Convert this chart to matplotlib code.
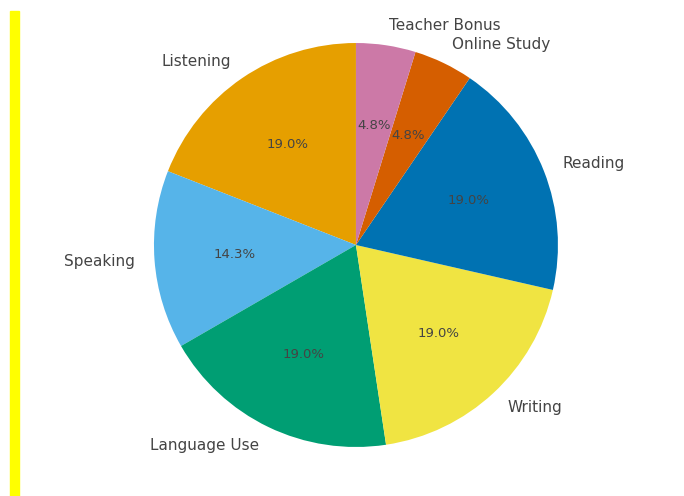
import matplotlib
matplotlib.use("Agg")
import matplotlib.pyplot as plt
from matplotlib.patches import Rectangle

# slices, counter-clockwise from 12 o'clock
labels = ["Listening", "Speaking", "Language Use", "Writing", "Reading",
          "Online Study", "Teacher Bonus"]
points = [20, 15, 20, 20, 20, 5, 5]
colors = ["#E69F00", "#56B4E9", "#009E73", "#F0E442", "#0072B2",
          "#D55E00", "#CC79A7"]

fig = plt.figure(figsize=(6.84, 4.96), dpi=100)

# yellow strip on the left edge
fig.patches.append(Rectangle((10 / 684, 0), 9 / 684, 485 / 496,
                             transform=fig.transFigure, color="#FFFF00",
                             zorder=0))

ax = fig.add_axes([0.2251, 0.0988, 0.5906, 0.8145])
wedges, texts, autotexts = ax.pie(points, labels=labels, colors=colors,
                                  autopct="%1.1f%%", startangle=90,
                                  textprops={"color": "#444444", "fontsize": 11})
for t in autotexts:
    t.set_fontsize(9.5)
ax.set_xlim(-1, 1)
ax.set_ylim(-1, 1)
ax.set_aspect("equal")

fig.savefig("out.png", dpi=100)
plt.close(fig)
